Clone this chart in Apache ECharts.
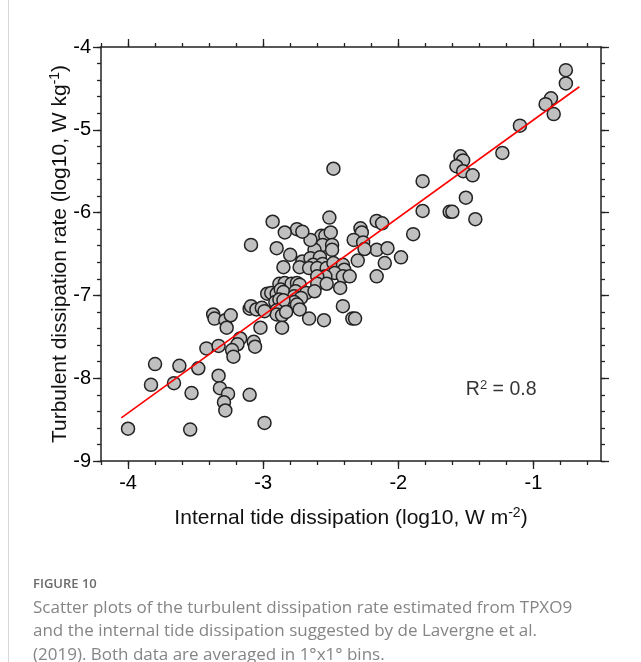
<!DOCTYPE html>
<html>
<head>
<meta charset="utf-8">
<script src="https://cdn.jsdelivr.net/npm/echarts@6/dist/echarts.min.js"></script>
<style>
html,body{margin:0;padding:0;background:#fff;}
#c{width:641px;height:662px;}
</style>
</head>
<body>
<div id="c"></div>
<script>
// Data: [internal tide dissipation (log10), turbulent dissipation rate (log10)]
const points = [
[-0.76,-4.28],[-0.76,-4.44],[-0.87,-4.62],[-0.91,-4.69],[-0.85,-4.81],[-1.10,-4.95],[-1.23,-5.28],
[-1.54,-5.32],[-1.52,-5.37],[-1.57,-5.44],[-1.52,-5.50],[-1.45,-5.55],[-1.50,-5.82],[-1.43,-6.08],
[-1.82,-5.62],[-1.82,-5.98],[-1.62,-5.99],[-1.60,-5.99],[-2.48,-5.47],[-1.89,-6.26],[-1.98,-6.54],
[-2.10,-6.61],[-2.16,-6.10],[-2.12,-6.13],[-2.16,-6.45],[-2.08,-6.43],[-2.16,-6.77],[-2.28,-6.19],
[-2.27,-6.24],[-2.33,-6.33],[-2.26,-6.36],[-2.25,-6.44],[-2.30,-6.58],[-2.41,-7.13],[-2.34,-7.28],
[-2.32,-7.28],[-2.55,-7.30],[-2.66,-7.28],[-2.51,-6.06],[-2.57,-6.28],[-2.54,-6.28],[-2.50,-6.24],
[-2.56,-6.39],[-2.49,-6.39],[-2.49,-6.45],[-2.62,-6.45],[-2.65,-6.33],[-2.75,-6.20],[-2.71,-6.23],
[-2.84,-6.24],[-2.93,-6.11],[-3.09,-6.39],[-2.90,-6.43],[-2.80,-6.51],[-2.71,-6.59],[-2.65,-6.55],
[-2.58,-6.54],[-2.85,-6.66],[-2.63,-6.63],[-2.56,-6.62],[-2.73,-6.66],[-2.66,-6.67],[-2.60,-6.67],
[-2.53,-6.67],[-2.48,-6.61],[-2.41,-6.63],[-2.40,-6.69],[-2.47,-6.73],[-2.41,-6.77],[-2.36,-6.77],
[-2.54,-6.77],[-2.60,-6.77],[-2.43,-6.91],[-2.88,-6.86],[-2.84,-6.85],[-2.79,-6.86],[-2.75,-6.85],
[-2.73,-6.87],[-2.60,-6.86],[-2.53,-6.86],[-2.97,-6.98],[-2.94,-6.97],[-2.90,-6.98],[-2.87,-6.93],
[-2.85,-6.96],[-2.76,-6.95],[-2.68,-6.97],[-2.62,-6.95],[-2.91,-7.08],[-2.88,-7.05],[-2.77,-7.01],
[-2.72,-7.03],[-2.77,-7.08],[-2.85,-7.06],[-2.75,-7.11],[-2.73,-7.17],[-2.90,-7.18],[-2.90,-7.23],
[-2.86,-7.24],[-2.83,-7.20],[-3.10,-7.16],[-3.09,-7.13],[-3.05,-7.17],[-3.01,-7.15],[-2.99,-7.19],
[-3.37,-7.23],[-3.36,-7.28],[-3.28,-7.30],[-3.24,-7.24],[-3.27,-7.39],[-3.02,-7.39],[-2.86,-7.39],
[-3.17,-7.52],[-3.19,-7.59],[-3.07,-7.56],[-3.06,-7.62],[-3.42,-7.64],[-3.33,-7.61],[-3.23,-7.66],
[-3.22,-7.74],[-3.80,-7.83],[-3.62,-7.85],[-3.48,-7.88],[-3.33,-7.97],[-3.83,-8.08],[-3.66,-8.06],
[-3.32,-8.12],[-3.26,-8.19],[-3.53,-8.18],[-3.10,-8.20],[-3.29,-8.29],[-3.28,-8.39],[-2.99,-8.54],
[-4.00,-8.61],[-3.54,-8.62]
];
const fitLine = [[-4.05,-8.48],[-0.66,-4.48]];
const r2Label = [[-1.50,-8.14]];
const xRange = [-4.2, -0.5];
const yRange = [-9, -4];
const xMajorTicks = [-4, -3, -2, -1];
const yMajorTicks = [-9, -8, -7, -6, -5, -4];
const xMinorTicks = [-4.2,-4.0,-3.8,-3.6,-3.4,-3.2,-3.0,-2.8,-2.6,-2.4,-2.2,-2.0,-1.8,-1.6,-1.4,-1.2,-1.0,-0.8,-0.6];
const yMinorTicks = [-9.0,-8.8,-8.6,-8.4,-8.2,-8.0,-7.8,-7.6,-7.4,-7.2,-7.0,-6.8,-6.6,-6.4,-6.2,-6.0,-5.8,-5.6,-5.4,-5.2,-5.0,-4.8,-4.6,-4.4,-4.2,-4.0];
const xTitle = 'Internal tide dissipation (log10, W m';
const xTitleSup = '-2';
const yTitle = 'Turbulent dissipation rate (log10, W kg';
const yTitleSup = '-1';
const captionHead = 'FIGURE 10';
const captionLines = [
 'Scatter plots of the turbulent dissipation rate estimated from TPXO9',
 'and the internal tide dissipation suggested by de Lavergne et al.',
 '(2019). Both data are averaged in 1°x1° bins.'
];

const FONT = 'Liberation Sans';
const AXC = '#222';
const lineStyle = {color: AXC, width: 1.5};

function xa(pos, ticks, len, labels, showLine){
  return {
    type:'value', position:pos, min:xRange[0], max:xRange[1],
    axisLine:{show:showLine, onZero:false, lineStyle},
    axisTick:{show:true, inside:false, length:len, customValues:ticks, lineStyle:{color:AXC,width:1.3}},
    axisLabel:labels ? {show:true, customValues:ticks, margin:12, fontSize:20, color:'#000', fontFamily:FONT} : {show:false},
    splitLine:{show:false}
  };
}
function ya(pos, ticks, len, labels, showLine){
  return {
    type:'value', position:pos, min:yRange[0], max:yRange[1],
    axisLine:{show:showLine, onZero:false, lineStyle},
    axisTick:{show:true, inside:false, length:len, customValues:ticks, lineStyle:{color:AXC,width:1.3}},
    axisLabel:labels ? {show:true, customValues:ticks, margin:10, fontSize:20, color:'#000', fontFamily:FONT} : {show:false},
    splitLine:{show:false}
  };
}

const xAxes = [xa('bottom', xMajorTicks, 8, true, true), xa('bottom', xMinorTicks, 4, false, false),
               xa('top', xMajorTicks, 8, false, true), xa('top', xMinorTicks, 4, false, false)];
xAxes[0].name = '{a|' + xTitle + '}{s|' + xTitleSup + '}{a|)}';
xAxes[0].nameLocation = 'middle';
xAxes[0].nameGap = 45;
xAxes[0].nameMoveOverlap = false;
xAxes[0].nameTextStyle = {rich:{a:{fontSize:21,color:'#111',fontFamily:FONT,lineHeight:24}, s:{fontSize:14,color:'#111',fontFamily:FONT,lineHeight:24,padding:[0,0,10,0]}}};

const yAxes = [ya('left', yMajorTicks, 8, true, true), ya('left', yMinorTicks, 4, false, false),
               ya('right', yMajorTicks, 8, false, true), ya('right', yMinorTicks, 4, false, false)];
yAxes[0].name = '{a|' + yTitle + '}{s|' + yTitleSup + '}{a|)}';
yAxes[0].nameLocation = 'middle';
yAxes[0].nameRotate = 90;
yAxes[0].nameGap = 29;
yAxes[0].nameMoveOverlap = false;
yAxes[0].nameTextStyle = {rich:{a:{fontSize:21,color:'#111',fontFamily:FONT,lineHeight:24}, s:{fontSize:14,color:'#111',fontFamily:FONT,lineHeight:24,padding:[0,0,10,0]}}};

const chart = echarts.init(document.getElementById('c'), null, {renderer:'canvas'});
chart.setOption({
  backgroundColor:'#fff',
  animation:false,
  grid:{left:101, top:47, right:40, bottom:201, containLabel:false},
  xAxis:xAxes,
  yAxis:yAxes,
  series:[
    {type:'scatter', data:points, symbol:'circle', symbolSize:13, z:2,
     itemStyle:{color:'#c0c0c0', borderColor:'#222', borderWidth:1.5, opacity:1}},
    {type:'line', data:fitLine, symbol:'none', z:3, lineStyle:{color:'#ff0000', width:1.6}},
    {type:'scatter', data:r2Label, symbol:'circle', symbolSize:0, z:4, itemStyle:{color:'rgba(0,0,0,0)'},
     label:{show:true, position:'right', distance:0, formatter:'{a|R}{s|2}{a| = 0.8}',
       rich:{a:{fontSize:19.5,color:'#000',fontFamily:FONT,lineHeight:22}, s:{fontSize:13,color:'#000',fontFamily:FONT,lineHeight:22,padding:[0,0,9,0]}}}}
  ],
  graphic:[
    {type:'line', shape:{x1:8.5,y1:0,x2:8.5,y2:662}, style:{stroke:'#d8d8d8', lineWidth:1}},
    {type:'text', left:33, top:578, style:{text:captionHead, fill:'#6b6b6b', font:'600 13px "Open Sans", sans-serif'}},
    {type:'text', left:33, top:596, style:{text:captionLines.join('\n'), fill:'#858585', font:'17px "Open Sans", sans-serif', lineHeight:23.5}}
  ]
});
</script>
</body>
</html>
